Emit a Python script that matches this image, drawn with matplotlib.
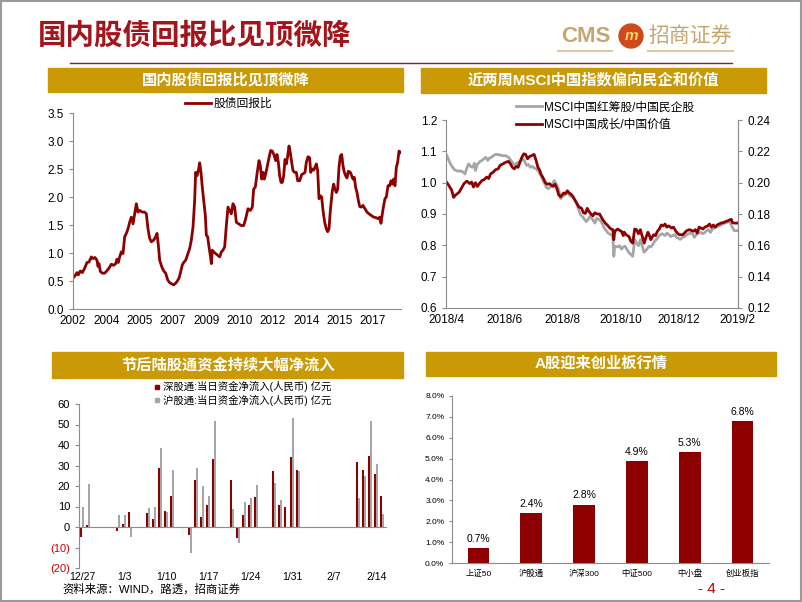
import numpy as np
import pandas as pd
import matplotlib
matplotlib.use("Agg")
import matplotlib.pyplot as plt
import matplotlib.dates as mdates
from matplotlib.patches import Rectangle, Ellipse
from matplotlib.lines import Line2D

plt.rcParams['font.family'] = ['Liberation Sans', 'Noto Sans CJK SC']
plt.rcParams['axes.unicode_minus'] = False

# ---------- 数据 ----------
# 股债回报比 (横轴: 自起点起的月数, 每20个月一个年份标签)
ratio_month = [0, 1.6, 2.4, 3.2, 4.4, 5.6, 7, 8.4, 9.6, 11, 12, 13.2, 14.4, 15, 15.6, 16.4, 17.6, 19, 20, 21.6,
               23, 24.4, 25.6, 26.4, 27.2, 28, 29, 30, 31, 32, 33, 34, 35, 36, 37, 38, 39, 40, 41.6, 43,
               44, 45, 46, 47, 48.4, 49.6, 50.4, 51.2, 52, 53.2, 54.4, 55.6, 56.8, 58, 59.2, 60.4, 61.6, 62.4, 63.6, 64.4,
               65.6, 66.4, 67.6, 69, 70, 71, 72, 73, 73.6, 74.4, 75.2, 76, 76.8, 77.6, 78.4, 79.4, 80, 80.8, 81.6, 82.4,
               83, 83.6, 84.4, 85.6, 86.8, 88, 89, 90, 91, 92, 93, 94, 95, 96, 97, 98,
               99.4, 101, 102.4, 103.6, 105, 106.4, 107.6, 108.4, 109.4, 110.4, 111.6, 112.4, 113.2, 114, 114.8, 115.6,
               116.6, 117.6, 118.6, 119.6, 120.6, 121.6, 122.4, 123.2, 124, 124.8, 125.6, 126.4, 127.2, 128, 128.8, 129.6,
               130.4, 131.2, 132, 133, 134, 134.8, 136, 137.2, 138.4, 139.2, 140, 141, 142, 142.6, 143.6, 144.4, 145.2, 146,
               146.8, 147.6, 148.4, 149.2, 150, 151, 152, 152.8, 153.6, 154.4, 155.6, 156.4, 157.2, 158, 158.8, 159.6,
               160.4, 161.2, 162, 162.8, 163.6, 164.4, 165.2, 166.4, 167.2, 168, 168.8, 169.6, 170.4, 171.2, 172, 173,
               174, 175.2, 176.4, 177.6, 179, 180.4, 182, 183.2, 184, 184.8, 185.6, 186.4, 187.2, 188, 189, 190, 190.8,
               191.6, 192.4, 193.2, 194, 194.8, 195.6, 196.8]
ratio_val = [0.55, 0.61, 0.65, 0.61, 0.68, 0.65, 0.73, 0.83, 0.84, 0.93, 0.90, 0.92, 0.87, 0.76, 0.81, 0.67, 0.64, 0.64, 0.67, 0.73,
             0.80, 0.78, 0.81, 0.89, 0.83, 0.93, 1.02, 0.99, 1.29, 1.35, 1.43, 1.55, 1.64, 1.52, 1.70, 1.88, 1.73, 1.76, 1.73, 1.73,
             1.70, 1.43, 1.26, 1.20, 1.23, 1.29, 1.35, 1.14, 0.87, 0.76, 0.68, 0.64, 0.52, 0.47, 0.45, 0.43, 0.46, 0.49, 0.55, 0.64,
             0.79, 0.83, 0.87, 0.99, 1.08, 1.23, 1.46, 1.94, 2.44, 2.38, 2.47, 2.61, 2.44, 2.17, 1.94, 1.67, 1.32, 1.29, 1.11, 0.96,
             0.81, 1.05, 1.02, 0.99, 0.96, 0.93, 1.02, 1.05, 1.11, 1.49, 1.82, 1.76, 1.70, 1.88, 1.82, 1.55,
             1.52, 1.49, 1.49, 1.61, 1.79, 1.76, 1.82, 2.14, 2.18, 2.41, 2.65, 2.56, 2.32, 2.44, 2.32, 2.41,
             2.56, 2.70, 2.83, 2.82, 2.75, 2.65, 2.76, 2.62, 2.38, 2.26, 2.26, 2.38, 2.67, 2.59, 2.73, 2.91,
             2.79, 2.62, 2.47, 2.44, 2.44, 2.29, 2.29, 2.40, 2.42, 2.44, 2.62, 2.72, 2.70, 2.44, 2.50, 2.48, 2.53, 2.59,
             2.47, 1.97, 2.02, 2.00, 1.76, 1.55, 1.43, 1.38, 1.43, 1.76, 2.11, 2.23, 2.14, 2.08, 2.14, 2.53,
             2.73, 2.76, 2.56, 2.44, 2.38, 2.34, 2.46, 2.44, 2.38, 2.32, 2.35, 2.17, 2.08, 1.94, 1.83, 1.82,
             1.85, 1.79, 1.73, 1.70, 1.67, 1.64, 1.63, 1.61, 1.64, 1.53, 1.70, 1.85, 1.97, 2.00, 2.20, 2.20, 2.29,
             2.23, 2.32, 2.20, 2.53, 2.62, 2.82, 2.79]
ratio_tick_labels = ['2002', '2004', '2005', '2007', '2009', '2010', '2012', '2014', '2015', '2017']

# MSCI (自2018-04-01起的天数)
grey_day = [0, 2, 4, 6, 8, 11, 13, 15, 17, 19, 21, 23, 25, 27, 29, 30, 32, 35, 37, 39,
            41, 43, 45, 47, 49, 51, 54, 56, 59, 62, 65, 67, 69, 71, 73, 75, 77, 80, 82, 84,
            86, 88, 90, 92, 94, 96, 99, 101, 103, 105, 107, 109, 111, 113, 116, 118, 120, 122, 124, 126,
            128, 130, 132, 135, 137, 139, 141, 143, 145, 147, 149, 151, 154, 156, 158, 160, 162, 164, 166, 168,
            170, 173, 175, 176, 177, 180, 182, 184, 186, 188, 190, 192, 194, 196, 198, 200, 202, 204, 206, 208,
            211, 213, 215, 217, 219, 221, 223, 225, 227, 230, 232, 234, 236, 238, 240, 242, 244, 246, 249, 251,
            253, 255, 257, 259, 261, 263, 265, 268, 270, 272, 274, 276, 278, 280, 282, 284, 287, 289, 291, 293,
            295, 297, 299, 301, 303, 306]
grey_val = [1.086, 1.071, 1.058, 1.049, 1.041, 1.037, 1.037, 1.037, 1.034, 1.028, 1.047, 1.06, 1.052, 1.049, 1.062, 1.039, 1.058, 1.068, 1.071, 1.076,
            1.081, 1.071, 1.079, 1.081, 1.086, 1.09, 1.09, 1.088, 1.086, 1.086, 1.081, 1.073, 1.065, 1.058, 1.06, 1.065, 1.068, 1.076, 1.068, 1.055,
            1.058, 1.049, 1.052, 1.047, 1.044, 1.039, 1.023, 1.009, 0.997, 0.984, 0.981, 0.986, 0.992, 1.007, 0.992, 0.976, 0.949, 0.957, 0.96, 0.965,
            0.967, 0.957, 0.957, 0.946, 0.932, 0.913, 0.897, 0.892, 0.883, 0.876, 0.883, 0.894, 0.881, 0.871, 0.886, 0.883, 0.879, 0.868, 0.855, 0.847,
            0.839, 0.834, 0.828, 0.765, 0.797, 0.795, 0.799, 0.788, 0.795, 0.797, 0.786, 0.776, 0.771, 0.765, 0.818, 0.807, 0.799, 0.818, 0.797, 0.778,
            0.788, 0.797, 0.795, 0.802, 0.813, 0.819, 0.828, 0.834, 0.837, 0.831, 0.839, 0.834, 0.828, 0.831, 0.834, 0.826, 0.823, 0.819, 0.826, 0.828,
            0.834, 0.837, 0.839, 0.837, 0.826, 0.834, 0.839, 0.841, 0.837, 0.841, 0.847, 0.85, 0.841, 0.852, 0.855, 0.858, 0.862, 0.865, 0.868, 0.871,
            0.873, 0.876, 0.871, 0.858, 0.847, 0.847]
red_day = [0, 3, 5, 7, 9, 11, 13, 16, 18, 21, 24, 26, 28, 30, 32, 35, 37, 39, 42, 44,
           46, 49, 51, 54, 56, 59, 62, 65, 67, 69, 71, 73, 75, 77, 79, 81, 83, 85, 87, 89,
           92, 94, 96, 98, 99, 101, 104, 106, 108, 110, 112, 114, 116, 118, 120, 123, 125, 127, 129, 131,
           133, 135, 137, 139, 142, 144, 146, 148, 150, 152, 154, 156, 158, 161, 163, 165, 167, 169, 171, 173,
           175, 176, 177, 180, 182, 184, 186, 187, 189, 192, 194, 196, 198, 200, 202, 204, 206, 208, 210, 212,
           214, 215, 218, 220, 222, 224, 226, 228, 230, 232, 234, 237, 239, 241, 243, 245, 247, 249, 251, 253,
           256, 258, 260, 262, 264, 266, 268, 270, 272, 275, 277, 279, 281, 283, 285, 287, 289, 292, 294, 296,
           298, 300, 301, 303, 306]
red_val = [1.00, 0.986, 0.976, 0.953, 0.96, 0.965, 0.97, 0.986, 0.997, 1.005, 0.997, 1.002, 0.986, 1.0, 0.988, 1.0, 1.007, 1.009, 1.018, 1.013,
           1.028, 1.034, 1.041, 1.044, 1.055, 1.06, 1.065, 1.068, 1.06, 1.049, 1.044, 1.052, 1.049, 1.065, 1.081, 1.092, 1.09, 1.076, 1.083, 1.086,
           1.09, 1.071, 1.049, 1.039, 1.028, 1.018, 0.999, 0.995, 0.997, 0.992, 0.988, 0.995, 0.981, 0.96, 0.955, 0.967, 0.965, 0.974, 0.967, 0.963,
           0.955, 0.944, 0.934, 0.923, 0.918, 0.904, 0.902, 0.918, 0.907, 0.9, 0.894, 0.904, 0.9, 0.9, 0.889, 0.879, 0.871, 0.865, 0.858, 0.852,
           0.85, 0.818, 0.845, 0.852, 0.848, 0.845, 0.831, 0.842, 0.834, 0.828, 0.813, 0.807, 0.852, 0.85, 0.837, 0.85, 0.828, 0.807, 0.826, 0.842,
           0.828, 0.818, 0.834, 0.831, 0.845, 0.852, 0.865, 0.862, 0.868, 0.858, 0.862, 0.855, 0.858, 0.847, 0.839, 0.834, 0.834, 0.834, 0.841, 0.847,
           0.85, 0.847, 0.845, 0.85, 0.839, 0.858, 0.855, 0.852, 0.858, 0.862, 0.868, 0.858, 0.865, 0.858, 0.865, 0.868, 0.871, 0.873, 0.876, 0.878,
           0.881, 0.883, 0.873, 0.871, 0.871]
msci_ticks = ['2018-04-01', '2018-06-01', '2018-08-01', '2018-10-01', '2018-12-01', '2019-02-01']
msci_tick_labels = ['2018/4', '2018/6', '2018/8', '2018/10', '2018/12', '2019/2']

# 陆股通资金流 (亿元)
flow_dates = ['2018-12-27', '2018-12-28', '2019-01-02', '2019-01-03', '2019-01-04',
              '2019-01-07', '2019-01-08', '2019-01-09', '2019-01-10', '2019-01-11',
              '2019-01-14', '2019-01-15', '2019-01-16', '2019-01-17', '2019-01-18',
              '2019-01-21', '2019-01-22', '2019-01-23', '2019-01-24', '2019-01-25',
              '2019-01-28', '2019-01-29', '2019-01-30', '2019-01-31', '2019-02-01',
              '2019-02-11', '2019-02-12', '2019-02-13', '2019-02-14', '2019-02-15']
sz_flow = [-5, 1, -2, 1.5, 7.5, 7, 4, 29, 8, 15, -4, 23, 5, 10.5, 33,
           23, -5.5, 6, 10.5, 14.5, 27.5, 10.5, 10, 34, 28, 31.5, 28, 34.5, 26, 15]
sh_flow = [10, 21, 6, 6, -5, 9.5, 10, 38.5, 7.5, 28, -12.5, 29, 20, 15, 51.5,
           9, -8, 12, 14, 20.5, 21.5, 13, 0, 53, 27.5, 14, 25, 51.5, 30.5, 6.5]
flow_ticks = ['2018-12-27', '2019-01-03', '2019-01-10', '2019-01-17', '2019-01-24', '2019-01-31', '2019-02-07', '2019-02-14']
flow_tick_labels = ['12/27', '1/3', '1/10', '1/17', '1/24', '1/31', '2/7', '2/14']

# A股指数涨幅 (%)
idx_names = ['上证50', '沪股通', '沪深300', '中证500', '中小盘', '创业板指']
idx_ret = [0.7, 2.4, 2.8, 4.9, 5.3, 6.8]

# ---------- 样式 ----------
W, H = 802, 602
DARK_RED = '#8E0000'
TITLE_RED = '#A3151B'
GOLD = '#C99A06'
TAN = '#C6A66E'
GREY_LINE = '#A6A6A6'
AX_GREY = '#8C8C8C'


def fx(x):
    return x / W


def fy(y):
    return 1 - y / H


def axes_px(x0, y0, x1, y1):
    return fig.add_axes([fx(x0), fy(y1), (x1 - x0) / W, (y1 - y0) / H])


def header(x0, y0, x1, y1, text):
    fig.patches.append(Rectangle((fx(x0), fy(y1)), (x1 - x0) / W, (y1 - y0) / H,
                                 transform=fig.transFigure, color=GOLD, zorder=0))
    fig.text(fx((x0 + x1) / 2), fy((y0 + y1) / 2), text, color='white', fontsize=11,
             fontweight='bold', ha='center', va='center')


def style_axes(ax, spines=('left', 'bottom')):
    for s in ['left', 'right', 'top', 'bottom']:
        ax.spines[s].set_visible(s in spines)
        ax.spines[s].set_color(AX_GREY)
        ax.spines[s].set_linewidth(0.8)
    ax.tick_params(colors=AX_GREY, labelcolor='black', length=3, width=0.8)


fig = plt.figure(figsize=(W / 100, H / 100), dpi=100)

# 页面边框、标题、标志
fig.patches.append(Rectangle((0.001, 0.001), 0.998, 0.997, transform=fig.transFigure,
                             fill=False, edgecolor='#9A9A9A', lw=1.5))
fig.text(fx(38), fy(36), '国内股债回报比见顶微降', fontsize=20.5, fontweight='bold',
         color=TITLE_RED, va='center', ha='left')
fig.text(fx(586), fy(36), 'CMS', fontsize=16, fontweight='bold', color=TAN, ha='center', va='center')
fig.patches.append(Ellipse((fx(631), fy(36)), 24 / W, 24 / H, transform=fig.transFigure,
                           color='#CF4A1A'))
fig.text(fx(631), fy(36), 'm', fontsize=11, color='#F7D36A', fontweight='bold',
         fontstyle='italic', ha='center', va='center')
fig.text(fx(690), fy(36), '招商证券', fontsize=15, color=TAN, ha='center', va='center')
fig.lines.append(Line2D([fx(558), fx(612)], [fy(51), fy(51)], transform=fig.transFigure, color='#DCC9A0', lw=1.5))
fig.lines.append(Line2D([fx(648), fx(733)], [fy(51), fy(51)], transform=fig.transFigure, color='#DCC9A0', lw=1.5))
fig.lines.append(Line2D([fx(70), fx(732)], [fy(63), fy(63)], transform=fig.transFigure, color=TITLE_RED, lw=1))

header(48, 68, 403, 92, '国内股债回报比见顶微降')
header(421, 68, 766, 93, '近两周MSCI中国指数偏向民企和价值')
header(52, 352, 403, 378, '节后陆股通资金持续大幅净流入')
header(426, 352, 776, 376, 'A股迎来创业板行情')

# ---------- 图1: 股债回报比 ----------
ax1 = axes_px(73, 113, 401, 309)
ax1.plot(ratio_month, ratio_val, color=DARK_RED, lw=2, label='股债回报比')
ax1.set_xlim(0, ratio_month[-1])
ax1.set_ylim(0, 3.5)
ax1.set_yticks(np.arange(0, 3.51, 0.5))
ax1.set_yticklabels(['%.1f' % v for v in np.arange(0, 3.51, 0.5)])
ax1.set_xticks(np.arange(len(ratio_tick_labels)) * 20)
ax1.set_xticklabels(ratio_tick_labels)
style_axes(ax1)
ax1.tick_params(axis='x', length=0, pad=4)
ax1.tick_params(labelsize=8.5)
ax1.legend(loc='center', bbox_to_anchor=(0.475, 1.045), frameon=False, fontsize=8.5,
           handlelength=2.2, handletextpad=0.2, borderpad=0)

# ---------- 图2: MSCI ----------
ax2 = axes_px(446, 120, 738, 308)
base = pd.Timestamp('2018-04-01')
grey_dates = base + pd.to_timedelta(grey_day, unit='D')
red_dates = base + pd.to_timedelta(red_day, unit='D')
ax2.plot(grey_dates, grey_val, color=GREY_LINE, lw=2, label='MSCI中国红筹股/中国民企股')
ax2.plot(red_dates, red_val, color=DARK_RED, lw=2, label='MSCI中国成长/中国价值')
ax2.set_xlim(pd.Timestamp('2018-03-31'), pd.Timestamp('2019-02-02'))
ax2.set_ylim(0.6, 1.2)
ax2.set_yticks(np.arange(0.6, 1.21, 0.1))
ax2.set_yticklabels(['%.1f' % v for v in np.arange(0.6, 1.21, 0.1)])
ax2.set_xticks(pd.to_datetime(msci_ticks))
ax2.set_xticklabels(msci_tick_labels)
style_axes(ax2, ('left', 'bottom', 'right'))
ax2.tick_params(axis='x', length=0, pad=4)
ax2.tick_params(labelsize=8.5)
ax2r = ax2.twinx()
ax2r.set_ylim(0.12, 0.24)
ax2r.set_yticks(np.arange(0.12, 0.241, 0.02))
ax2r.set_yticklabels(['%.2f' % v for v in np.arange(0.12, 0.241, 0.02)])
style_axes(ax2r, ('right',))
ax2r.tick_params(labelsize=8.5)
ax2.legend(loc='center left', bbox_to_anchor=(0.22, 1.02), frameon=False, fontsize=8.5,
           handlelength=2.2, handletextpad=0.15, borderpad=0, labelspacing=0.45)

# ---------- 图3: 陆股通 ----------
ax3 = axes_px(79, 404, 387, 568)
fd = mdates.date2num(pd.to_datetime(flow_dates))
ax3.bar(fd - 0.17, sz_flow, width=0.3, color=DARK_RED)
ax3.bar(fd + 0.17, sh_flow, width=0.3, color='#A6A6A6')
ax3.axhline(0, color=AX_GREY, lw=0.8)
d0 = mdates.date2num(pd.Timestamp('2018-12-27'))
ax3.set_xlim(d0 - 0.5, d0 + 50.8)
ax3.set_ylim(-20, 60)
yt = np.arange(-20, 61, 10)
ax3.set_yticks(yt)
ax3.set_yticklabels(['(%d)' % -v if v < 0 else '%d' % v for v in yt])
ax3.set_xticks(mdates.date2num(pd.to_datetime(flow_ticks)))
ax3.set_xticklabels(flow_tick_labels)
style_axes(ax3, ('left',))
ax3.tick_params(axis='x', length=0, pad=3, labelsize=7.5)
ax3.tick_params(axis='y', labelsize=8)
for tl, v in zip(ax3.get_yticklabels(), yt):
    if v < 0:
        tl.set_color('#D00000')
h3 = [Line2D([], [], marker='s', ls='none', color=DARK_RED, markersize=3.5),
      Line2D([], [], marker='s', ls='none', color='#A6A6A6', markersize=3.5)]
ax3.legend(h3, ['深股通:当日资金净流入(人民币) 亿元', '沪股通:当日资金净流入(人民币) 亿元'],
           loc='center left', bbox_to_anchor=(0.225, 1.064), frameon=False, fontsize=7.5,
           handlelength=0.6, handletextpad=0.3, borderpad=0, labelspacing=0.25)

# ---------- 图4: A股涨幅 ----------
ax4 = axes_px(452, 396, 769, 563)
xi = np.arange(len(idx_names))
ax4.bar(xi, idx_ret, width=0.41, color=DARK_RED)
for x, v in zip(xi, idx_ret):
    ax4.annotate('%.1f%%' % v, (x, v), xytext=(0, 3), textcoords='offset points',
                 ha='center', va='bottom', fontsize=7.5)
ax4.set_xlim(-0.5, len(idx_names) - 0.5)
ax4.set_ylim(0, 8)
ax4.set_yticks(np.arange(0, 8.1, 1))
ax4.set_yticklabels(['%.1f%%' % v for v in np.arange(0, 8.1, 1)])
ax4.set_xticks(xi)
ax4.set_xticklabels(idx_names)
style_axes(ax4)
ax4.tick_params(axis='x', length=0, pad=5, labelsize=6)
ax4.tick_params(axis='y', labelsize=6, length=2)

# 脚注与页码
fig.text(fx(62), fy(589), '资料来源：WIND，路透，招商证券', fontsize=8.2, va='center', ha='left')
fig.text(fx(711), fy(589), '- 4 -', fontsize=11, color='#C00000', va='center', ha='center')

fig.savefig('out.png', dpi=100)
